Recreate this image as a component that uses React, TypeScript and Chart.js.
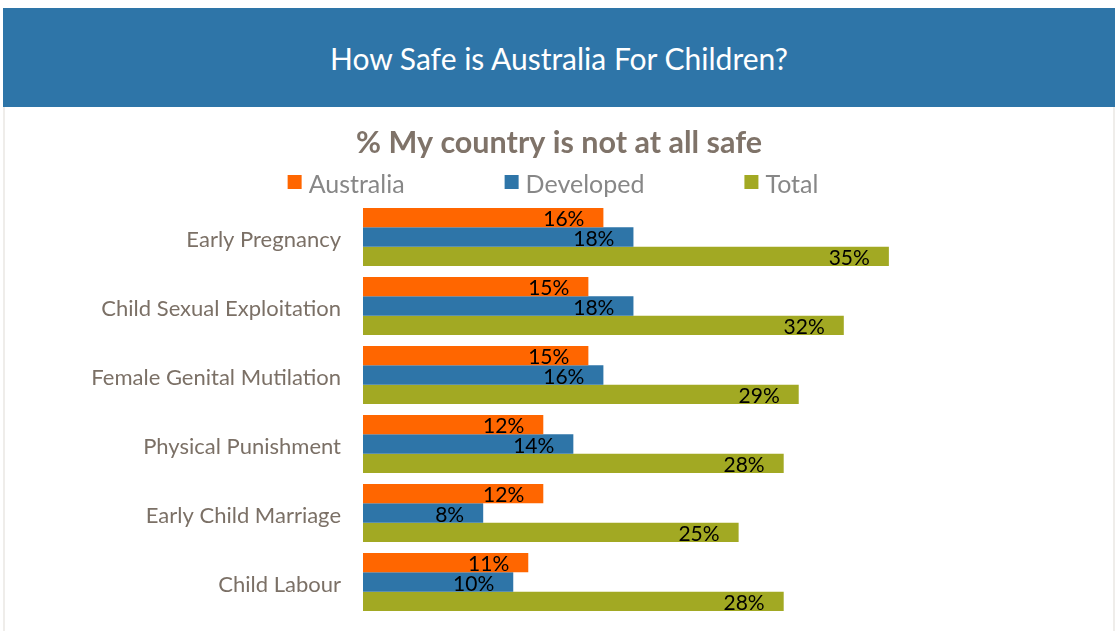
import React, { useEffect, useRef } from "react";
import { Chart, registerables } from "chart.js";

Chart.register(...registerables);

const chartTitle = "How Safe is Australia For Children?";
const chartSubtitle = "% My country is not at all safe";
const categories = [
  "Early Pregnancy",
  "Child Sexual Exploitation",
  "Female Genital Mutilation",
  "Physical Punishment",
  "Early Child Marriage",
  "Child Labour",
];
const australia = [16, 15, 15, 12, 12, 11];
const developed = [18, 18, 16, 14, 8, 10];
const total = [35, 32, 29, 28, 25, 28];
const seriesNames = ["Australia", "Developed", "Total"];
const seriesColors = ["#FF6600", "#2E75A8", "#A2A923"];

const FONT = "Lato, 'Open Sans', sans-serif";

const labelPlugin = {
  id: "barLabels",
  afterDatasetsDraw(chart: any) {
    const ctx = chart.ctx;
    ctx.save();
    ctx.font = `21px ${FONT}`;
    ctx.fillStyle = "#000000";
    ctx.textAlign = "right";
    ctx.textBaseline = "middle";
    chart.data.datasets.forEach((ds: any, di: number) => {
      const meta = chart.getDatasetMeta(di);
      meta.data.forEach((bar: any, i: number) => {
        ctx.fillText(`${ds.data[i]}%`, bar.x - 19, bar.y + 2);
      });
    });
    ctx.restore();
  },
};

const headerPlugin = {
  id: "headerAndLegend",
  afterDraw(chart: any) {
    const ctx = chart.ctx;
    ctx.save();
    // subtitle
    ctx.font = `bold 30.5px ${FONT}`;
    ctx.fillStyle = "#7F7369";
    ctx.textAlign = "center";
    ctx.textBaseline = "alphabetic";
    ctx.fillText(chartSubtitle, chart.width / 2, 46);
    // legend
    ctx.font = `25px ${FONT}`;
    const box = 14;
    const gapText = 7;
    const gapItem = 100;
    const widths = chart.data.datasets.map(
      (ds: any) => box + gapText + ctx.measureText(ds.label).width
    );
    const totalW =
      widths.reduce((a: number, b: number) => a + b, 0) +
      gapItem * (widths.length - 1);
    let x = chart.width / 2 - totalW / 2 - 6;
    const baseline = 86;
    chart.data.datasets.forEach((ds: any, i: number) => {
      ctx.fillStyle = ds.backgroundColor;
      ctx.fillRect(x, 68, box, box);
      ctx.fillStyle = "#878787";
      ctx.textAlign = "left";
      ctx.fillText(ds.label, x + box + gapText, baseline);
      x += widths[i] + gapItem;
    });
    ctx.restore();
  },
};

export default function App() {
  const canvasRef = useRef<HTMLCanvasElement | null>(null);

  useEffect(() => {
    if (!canvasRef.current) return;
    const chart = new Chart(canvasRef.current, {
      type: "bar",
      data: {
        labels: categories,
        datasets: [australia, developed, total].map((d, i) => ({
          label: seriesNames[i],
          data: d,
          backgroundColor: seriesColors[i],
          borderWidth: 0,
          barPercentage: 1,
          categoryPercentage: 0.84,
        })),
      },
      options: {
        indexAxis: "y",
        animation: false,
        responsive: false,
        maintainAspectRatio: false,
        layout: { padding: { left: 0, right: 149, top: 95.5, bottom: 14.5 } },
        plugins: {
          legend: { display: false },
          tooltip: { enabled: false },
          title: { display: false },
        },
        scales: {
          x: {
            display: false,
            min: 0,
            max: 40,
          },
          y: {
            grid: { display: false, drawTicks: false },
            border: { display: false },
            ticks: {
              color: "#7B7066",
              font: { family: FONT, size: 22 },
              padding: 22,
              labelOffset: 3,
            },
            afterFit(scale: any) {
              scale.width = 358;
              scale.paddingTop = 0;
              scale.paddingBottom = 0;
            },
          },
        },
      },
      plugins: [labelPlugin, headerPlugin],
    });
    return () => chart.destroy();
  }, []);

  return (
    <div
      style={{
        position: "absolute",
        left: 3,
        top: 8,
        width: 1112,
        height: 623,
        boxSizing: "border-box",
        borderLeft: "2px solid #EFEDEA",
        borderRight: "2px solid #EFEDEA",
        background: "#FFFFFF",
      }}
    >
      <div
        style={{
          height: 99,
          marginLeft: -2,
          marginRight: -2,
          background: "#2E75A8",
          color: "#FFFFFF",
          fontFamily: FONT,
          fontSize: 30,
          display: "flex",
          alignItems: "center",
          justifyContent: "center",
          boxSizing: "border-box",
        }}
      >
        {chartTitle}
      </div>
      <canvas
        ref={canvasRef}
        width={1108}
        height={524}
        style={{ display: "block", width: 1108, height: 524 }}
      />
    </div>
  );
}
